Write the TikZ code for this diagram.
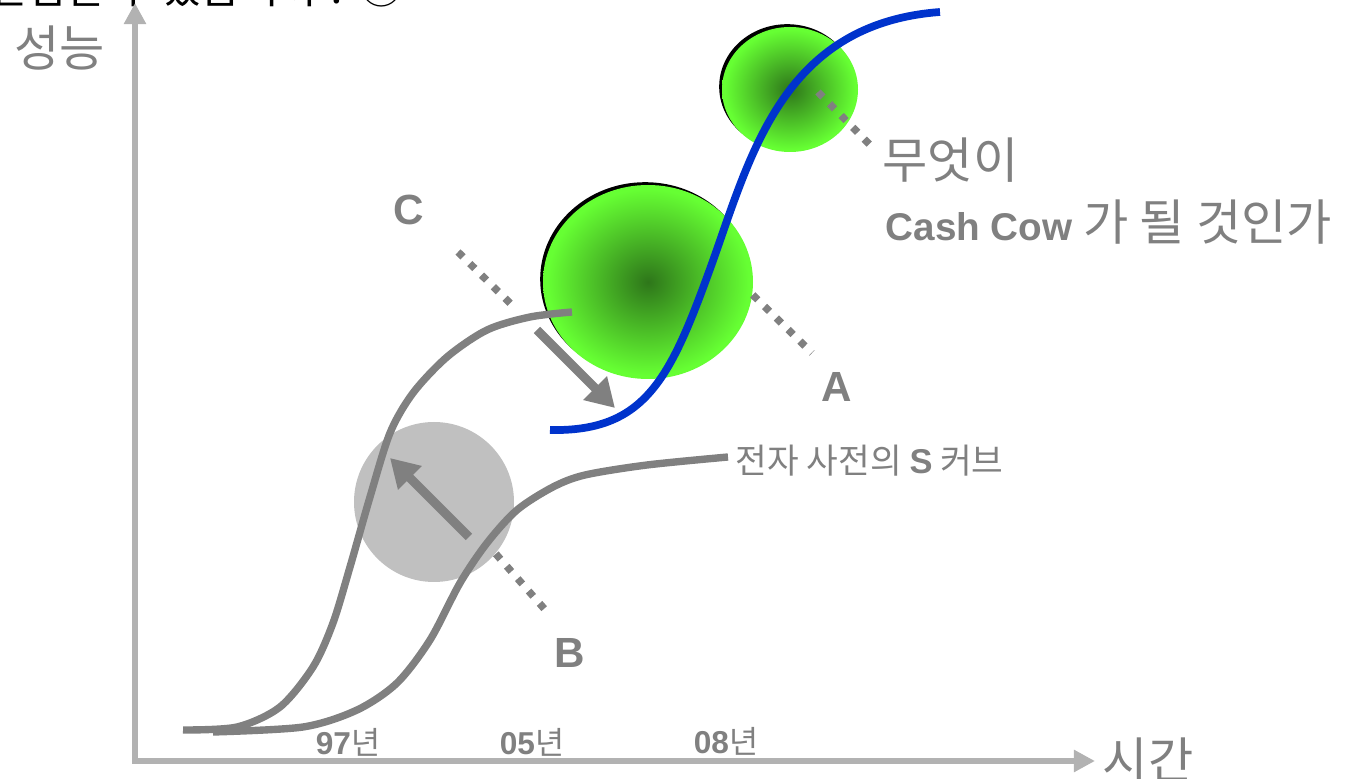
\documentclass[tikz,border=0pt]{standalone}
\usepackage{fontspec}
\setmainfont{Noto Sans CJK KR}
\newfontfamily\latinb{Liberation Sans}
\usetikzlibrary{positioning,arrows.meta,shapes.geometric,shadows}
\definecolor{labelgray}{HTML}{808080}
\definecolor{axisgray}{HTML}{B2B2B2}
\definecolor{ballgray}{HTML}{C0C0C0}
\definecolor{curveblue}{HTML}{0033CC}
\definecolor{ballrim}{HTML}{66FF33}
\definecolor{ballcore}{HTML}{2E761A}
\pgfdeclareradialshading{ballglow}{\pgfpoint{0bp}{0bp}}{color(0bp)=(ballcore); color(24bp)=(ballrim); color(50bp)=(ballrim)}
\newcommand\yearlabel[1]{{\latinb\bfseries #1}년}

\begin{document}
\begin{tikzpicture}[
every node/.style={inner sep=0pt,text=labelgray},
axisline/.style={draw=axisgray,line width=1.6pt,{Triangle[length=6pt,width=6pt]}-{Triangle[length=6pt,width=6pt]}},
scurve/.style={draw=labelgray,line width=2.1pt},
newcurve/.style={draw=curveblue,line width=2.2pt},
greenball/.style={ellipse,shade,shading=ballglow,general shadow={fill=black,shadow xshift=-0.8pt,shadow yshift=0.8pt}},
grayball/.style={circle,fill=ballgray,minimum size=1.6cm},
leader/.style={draw=labelgray,line width=2.1pt,dash pattern=on 2pt off 2.7pt},
fatarrow/.style={draw=labelgray,line width=2.6pt,-{Triangle[length=8pt,width=9pt]}},
axistext/.style={font=\fontsize{14}{16}\selectfont},
yeartext/.style={font=\fontsize{9}{11}\selectfont},
lettertext/.style={font=\latinb\bfseries\fontsize{12}{14}\selectfont},
notetext/.style={font=\fontsize{14}{16}\selectfont,anchor=west}]
\useasboundingbox (0,0) rectangle (13.47,7.79);

% clipped heading
\node[anchor=base west,text=black,font=\fontsize{12}{14}\selectfont] (headline) at (-0.12,7.75) {선점할 수 있습니까 ? ③};

% axes
\coordinate (corner) at (1.35,0.18);
\coordinate (ytip) at (1.35,7.76);
\coordinate (xtip) at (10.95,0.18);
\draw[axisline] (ytip) -- (corner) -- (xtip);
\node[axistext] (perf) at (0.60,7.31) {성능};
\node[axistext] (time) at (11.48,0.19) {시간};
\node[yeartext] (y97) at (3.48,0.37) {\yearlabel{97}};
\node[yeartext] (y05) at (5.32,0.37) {\yearlabel{05}};
\node[yeartext] (y08) at (7.26,0.38) {\yearlabel{08}};

% balls
\node[greenball,minimum width=2.1cm,minimum height=1.94cm] (bigball) at (6.48,4.97) {};
\node[greenball,minimum width=1.36cm,minimum height=1.25cm] (smallball) at (7.90,6.895) {};
\node[grayball] (grayball) at (4.34,2.77) {};

% S curves
\draw[scurve] plot[smooth] coordinates {(1.83,0.49) (2.37,0.52) (2.80,0.72) (3.13,1.12) (3.33,1.56) (3.50,2.12) (3.70,2.82) (3.90,3.46) (4.13,3.86) (4.47,4.22) (4.87,4.49) (5.30,4.62) (5.72,4.67)};
\draw[scurve] plot[smooth] coordinates {(2.13,0.47) (3.03,0.52) (3.57,0.69) (3.97,0.96) (4.30,1.39) (4.60,1.96) (4.87,2.36) (5.17,2.69) (5.53,2.92) (5.85,3.04) (6.47,3.14) (7.28,3.22)};
\draw[newcurve] (5.50,3.49) .. controls (6.45,3.47) and (6.70,4.00) .. (7.10,5.10)
  .. controls (7.50,6.20) and (7.80,7.55) .. (9.40,7.67);

% moves
\coordinate (btail) at (4.69,2.42);
\coordinate (bhead) at (3.90,3.21);
\coordinate (ctail) at (5.37,4.49);
\coordinate (chead) at (6.15,3.71);
\draw[fatarrow] (btail) -- (bhead);
\draw[fatarrow] (ctail) -- (chead);

% leaders and labels
\coordinate (cstart) at (4.58,5.27);
\coordinate (cend) at (5.15,4.71);
\coordinate (aend) at (8.12,4.26);
\coordinate (bend) at (5.48,1.66);
\coordinate (qstart) at (8.18,6.87);
\coordinate (qend) at (8.73,6.31);
\draw[leader] (cstart) -- (cend);
\draw[leader] (bigball.-7) -- (aend);
\draw[leader] (grayball.-40) -- (bend);
\draw[leader] (qstart) -- (qend);
\node[lettertext] (clabel) at (4.09,5.69) {C};
\node[lettertext] (alabel) at (8.37,3.92) {A};
\node[lettertext] (blabel) at (5.70,1.26) {B};
\node[notetext] (what) at (8.82,6.19) {무엇이};
\node[notetext] (cow) at (8.85,5.57) {{\latinb\bfseries\fontsize{11}{13}\selectfont Cash Cow} 가 될 것인가};
\node[notetext,font=\fontsize{9.8}{11}\selectfont] (dict) at (7.35,3.18) {전자 사전의 {\latinb\bfseries S} 커브};
\end{tikzpicture}
\end{document}
